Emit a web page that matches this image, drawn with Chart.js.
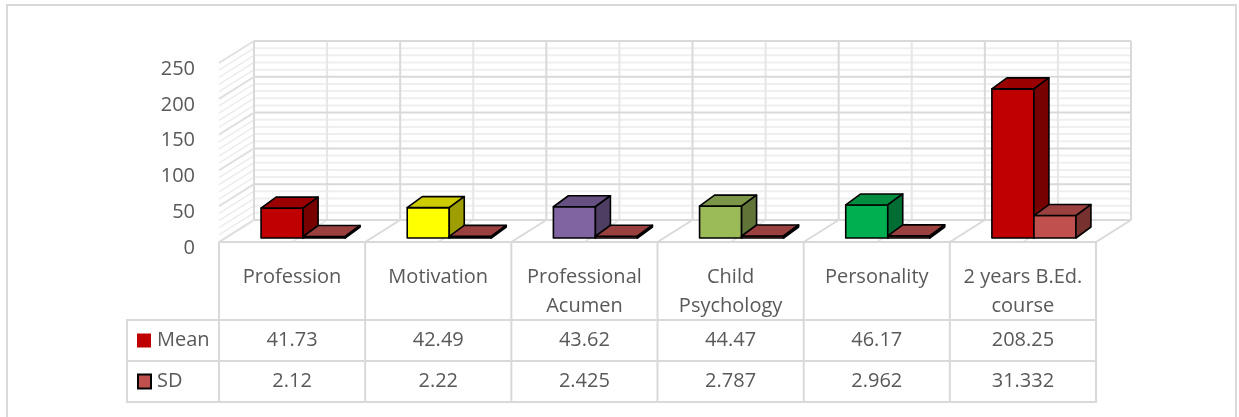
<!DOCTYPE html>
<html lang="en">
<head>
<meta charset="UTF-8">
<title>Mean and SD</title>
<script src="https://cdn.jsdelivr.net/npm/chart.js"></script>
<style>
  body { margin: 0; background: #fff; }
</style>
</head>
<body>
<canvas id="myChart" width="1239" height="417"></canvas>
<script>

// Données
const categories = [['Profession'], ['Motivation'], ['Professional', 'Acumen'], ['Child', 'Psychology'], ['Personality'], ['2 years B.Ed.', 'course']];
const seriesNames = ['Mean', 'SD'];
const meanValues = [41.73, 42.49, 43.62, 44.47, 46.17, 208.25];
const sdValues = [2.12, 2.22, 2.425, 2.787, 2.962, 31.332];
const yTicks = [0, 50, 100, 150, 200, 250];

// Couleurs
const meanColors = ['#c00000', '#ffff00', '#8064a2', '#9bbb59', '#00b050', '#c00000'];
const sdColor = '#c0504d';
const grey = '#d9d9d9';
const textColor = '#595959';
const font = '"Open Sans", sans-serif';

// profondeur des barres, bord avant du sol, mur du fond (par rapport au plan des barres)
const depth = { dx: 15, dy: -11 };
const front = { dx: -11, dy: 4 };
const back = { dx: 24, dy: -18 };

let shade = (hex, f) => {
    let n = parseInt(hex.slice(1), 16);
    let r = Math.round(((n >> 16) & 255) * f), g = Math.round(((n >> 8) & 255) * f), b = Math.round((n & 255) * f);
    return `rgb(${r},${g},${b})`;
};

let line = (ctx, x1, y1, x2, y2, color, w) => {
    ctx.beginPath();
    ctx.moveTo(x1, y1);
    ctx.lineTo(x2, y2);
    ctx.strokeStyle = color;
    ctx.lineWidth = w;
    ctx.stroke();
};

let poly = (ctx, pts, fill) => {
    ctx.beginPath();
    pts.forEach((p, i) => i ? ctx.lineTo(p[0], p[1]) : ctx.moveTo(p[0], p[1]));
    ctx.closePath();
    ctx.fillStyle = fill;
    ctx.fill();
    ctx.stroke();
};

let drawBox = (ctx, el, color) => {
    let x0 = el.x - el.width / 2, x1 = el.x + el.width / 2, top = el.y, bot = el.base;
    ctx.save();
    ctx.strokeStyle = '#000';
    ctx.lineWidth = 1.6;
    ctx.lineJoin = 'round';
    poly(ctx, [[x0, bot], [x1, bot], [x1, top], [x0, top]], color);
    poly(ctx, [[x0, top], [x1, top], [x1 + depth.dx, top + depth.dy], [x0 + depth.dx, top + depth.dy]], shade(color, 0.8));
    poly(ctx, [[x1, bot], [x1, top], [x1 + depth.dx, top + depth.dy], [x1 + depth.dx, bot + depth.dy]], shade(color, 0.62));
    ctx.restore();
};

const scene3d = {
    id: 'scene3d',
    beforeDatasetsDraw(chart) {
        const { ctx, chartArea: a, scales: { y } } = chart;
        const step = (a.right - a.left) / categories.length;
        ctx.save();
        ctx.lineCap = 'butt';

        // quadrillage mineur (tous les 10) puis majeur (tous les 50)
        for (let v = 10; v < 250; v += 10) {
            if (v % 50 === 0) continue;
            let py = y.getPixelForValue(v);
            line(ctx, a.left + back.dx, py + back.dy, a.right + back.dx, py + back.dy, '#efefef', 2);
            line(ctx, a.left + front.dx, py + front.dy, a.left + back.dx, py + back.dy, '#ececec', 1.5);
        }
        // sol
        for (let k = 0; k <= categories.length * 2; k++) {
            let px = a.left + k * step / 2;
            line(ctx, px + front.dx, a.bottom + front.dy, px + back.dx, a.bottom + back.dy, k % 2 ? '#e8e8e8' : grey, 2);
        }
        // lignes verticales du mur du fond
        for (let k = 0; k <= categories.length * 2; k++) {
            let px = a.left + k * step / 2 + back.dx;
            line(ctx, px, a.top + back.dy, px, a.bottom + back.dy, k % 2 ? '#e6e6e6' : grey, 2);
        }
        yTicks.forEach(v => {
            let py = y.getPixelForValue(v);
            line(ctx, a.left + back.dx, py + back.dy, a.right + back.dx, py + back.dy, grey, 2);
            line(ctx, a.left + front.dx, py + front.dy, a.left + back.dx, py + back.dy, '#e0e0e0', 2);
        });

        // barres, catégorie par catégorie
        categories.forEach((c, i) => {
            chart.data.datasets.forEach((ds, d) => {
                let el = chart.getDatasetMeta(d).data[i];
                let col = Array.isArray(ds.backgroundColor) ? ds.backgroundColor[i] : ds.backgroundColor;
                drawBox(ctx, el, col);
            });
        });
        ctx.restore();
        return false;
    },
    afterDraw(chart) {
        const { ctx, chartArea: a } = chart;
        const step = (a.right - a.left) / categories.length;
        const left = a.left + front.dx;
        const right = a.right + front.dx;
        const top = a.bottom + front.dy;
        const headBottom = top + 78;
        const rowH = 41;
        const legendLeft = 127;
        ctx.save();

        // cadre extérieur
        ctx.strokeStyle = grey;
        ctx.lineWidth = 2;
        ctx.strokeRect(7, 5, 1229, 430);

        // grille du tableau
        line(ctx, left, top, right, top, grey, 2);
        for (let r = 0; r <= 2; r++) {
            line(ctx, legendLeft, headBottom + r * rowH, right + 1, headBottom + r * rowH, grey, 2);
        }
        for (let k = 0; k <= categories.length; k++) {
            line(ctx, left + k * step, top, left + k * step, headBottom + 2 * rowH + 1, grey, 2);
        }
        line(ctx, legendLeft, headBottom - 1, legendLeft, headBottom + 2 * rowH + 1, grey, 2);

        // textes
        ctx.fillStyle = textColor;
        ctx.font = `20px ${font}`;
        ctx.textAlign = 'center';
        ctx.textBaseline = 'middle';
        categories.forEach((lines, i) => {
            let cx = left + (i + 0.5) * step;
            lines.forEach((t, j) => ctx.fillText(t, cx, top + 35 + j * 29));
            ctx.fillText(String(meanValues[i]), cx, headBottom + rowH / 2);
            ctx.fillText(String(sdValues[i]), cx, headBottom + rowH * 1.5);
        });

        // légende
        ctx.textAlign = 'left';
        seriesNames.forEach((name, r) => {
            let cy = headBottom + rowH * (r + 0.5);
            ctx.fillStyle = textColor;
            ctx.fillText(name, 157, cy);
        });
        let cy0 = headBottom + rowH * 0.5;
        ctx.fillStyle = meanColors[0];
        ctx.fillRect(137, cy0 - 7, 14, 14);
        let cy1 = headBottom + rowH * 1.5;
        ctx.fillStyle = sdColor;
        ctx.fillRect(138, cy1 - 7, 13, 14);
        ctx.strokeStyle = '#000';
        ctx.lineWidth = 2;
        ctx.strokeRect(138, cy1 - 7, 13, 14);
        ctx.restore();
    }
};

const ctx = document.getElementById('myChart');
new Chart(ctx, {
    type: 'bar',
    data: {
        labels: categories,
        datasets: [
            { label: seriesNames[0], data: meanValues, backgroundColor: meanColors },
            { label: seriesNames[1], data: sdValues, backgroundColor: sdColor }
        ]
    },
    options: {
        responsive: false,
        animation: false,
        categoryPercentage: 0.575,
        barPercentage: 1,
        layout: { padding: { left: 0, top: 59, right: 132, bottom: 179 } },
        plugins: { legend: { display: false }, tooltip: { enabled: false } },
        scales: {
            x: { display: false },
            y: {
                min: 0,
                max: 250,
                afterBuildTicks: s => { s.ticks = yTicks.map(v => ({ value: v })); },
                afterFit: s => { s.width = 230; },
                grid: { display: false, drawTicks: false },
                border: { display: false },
                ticks: { padding: 35, labelOffset: 10, color: textColor, font: { family: font, size: 20 } }
            }
        }
    },
    plugins: [scene3d]
});
</script>
</body>
</html>
